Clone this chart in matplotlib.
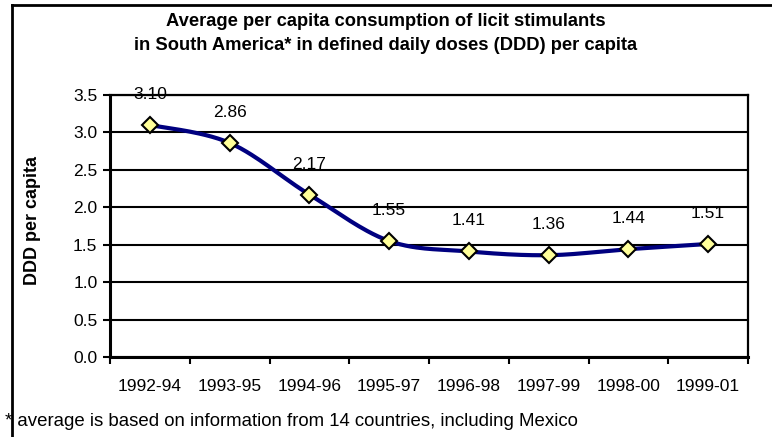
import numpy as np
import matplotlib.pyplot as plt
from matplotlib.lines import Line2D

plt.rcParams['font.family'] = ['Liberation Sans', 'DejaVu Sans']

# Data
periods = ['1992-94', '1993-95', '1994-96', '1995-97', '1996-98', '1997-99', '1998-00', '1999-01']
ddd = [3.10, 2.86, 2.17, 1.55, 1.41, 1.36, 1.44, 1.51]
ddd_labels = ['3.10', '2.86', '2.17', '1.55', '1.41', '1.36', '1.44', '1.51']


def smooth(x, y, n=30):
    # Excel-like smoothed line (Catmull-Rom as cubic Bezier)
    x = np.asarray(x, float)
    y = np.asarray(y, float)
    px = np.concatenate([[x[0]], x, [x[-1]]])
    py = np.concatenate([[y[0]], y, [y[-1]]])
    xs, ys = [], []
    t = np.linspace(0, 1, n)
    for i in range(1, len(px) - 2):
        p0 = np.array([px[i], py[i]])
        p3 = np.array([px[i + 1], py[i + 1]])
        p1 = p0 + (np.array([px[i + 1], py[i + 1]]) - np.array([px[i - 1], py[i - 1]])) / 6
        p2 = p3 - (np.array([px[i + 2], py[i + 2]]) - np.array([px[i], py[i]])) / 6
        b = ((1 - t) ** 3)[:, None] * p0 + (3 * (1 - t) ** 2 * t)[:, None] * p1 \
            + (3 * (1 - t) * t ** 2)[:, None] * p2 + (t ** 3)[:, None] * p3
        xs.extend(b[:, 0])
        ys.extend(b[:, 1])
    return xs, ys


fig = plt.figure(figsize=(7.72, 4.37), dpi=100)
ax = fig.add_axes([110 / 772, 1 - 357 / 437, (748 - 110) / 772, (357 - 95) / 437])

x = np.arange(len(periods))
sx, sy = smooth(x, ddd)
ax.plot(sx, sy, color='#000080', lw=3, zorder=3, solid_capstyle='round', clip_on=False)
ax.plot(x, ddd, ls='none', marker='D', ms=8.5, mfc='#FFFF99', mec='black', mew=1.5, zorder=4,
        clip_on=False)

for xi, yi, lab in zip(x, ddd, ddd_labels):
    ax.annotate(lab, (xi, yi), xytext=(0, 22), textcoords='offset points',
                ha='center', va='center', fontsize=12.5, zorder=5)

ax.set_xlim(-0.5, len(periods) - 0.5)
ax.set_ylim(0, 3.5)
yt = np.arange(0, 3.51, 0.5)
ax.set_yticks(yt)
ax.set_yticklabels([f'{v:.1f}' for v in yt], fontsize=12.5)
ax.yaxis.grid(True, color='black', lw=1.5)
ax.set_axisbelow(True)

ax.set_xticks(x)
ax.set_xticklabels(periods, fontsize=12.5)
ax.tick_params(axis='x', which='major', length=0, pad=15.5)
ax.set_xticks(np.arange(-0.5, len(periods)), minor=True)
ax.tick_params(axis='x', which='minor', length=5, width=1.5, direction='out')
ax.tick_params(axis='y', length=5, width=1.5, pad=4)

for s in ['left', 'bottom']:
    ax.spines[s].set_linewidth(2.2)
for s in ['right', 'top']:
    ax.spines[s].set_linewidth(1.6)

ax.set_ylabel('DDD per capita', fontsize=13, fontweight='bold')
ax.yaxis.set_label_coords(-(110 - 41) / 638, 0.52)

fig.text(0.5, 1 - 22 / 437, 'Average per capita consumption of licit stimulants',
         ha='center', va='center', fontsize=13.2, fontweight='bold')
fig.text(0.5, 1 - 46 / 437, 'in South America* in defined daily doses (DDD) per capita',
         ha='center', va='center', fontsize=13.2, fontweight='bold')
fig.text(5 / 772, 1 - 421 / 437, '* average is based on information from 14 countries, including Mexico',
         ha='left', va='center', fontsize=13.4)

# outer frame (left and top)
fig.add_artist(Line2D([12 / 772, 12 / 772], [0, 1 - 5 / 437], color='black', lw=2))
fig.add_artist(Line2D([12 / 772, 1], [1 - 5 / 437, 1 - 5 / 437], color='black', lw=2))

fig.savefig('out.png', dpi=100)
